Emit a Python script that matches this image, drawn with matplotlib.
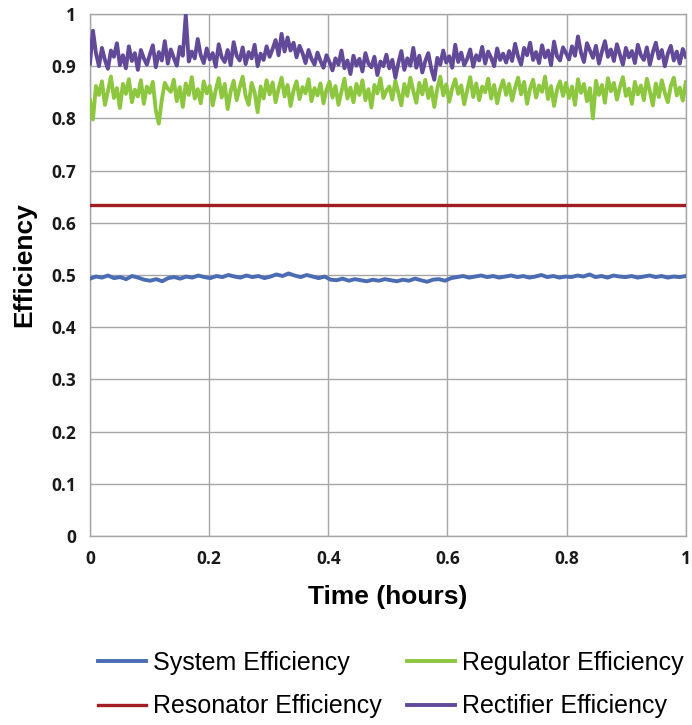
import numpy as np
import matplotlib
matplotlib.use('Agg')
import matplotlib.pyplot as plt

plt.rcParams['font.family'] = ['Liberation Sans', 'DejaVu Sans']

# Efficiency readings over one hour (equally spaced samples)
rectifier_eff = [
    0.905, 0.968, 0.925, 0.900, 0.935, 0.912, 0.895, 0.930, 0.918, 0.944, 0.902, 0.921, 0.896, 0.938, 0.910, 0.925, 0.893, 0.931, 0.915, 0.903,
    0.922, 0.940, 0.898, 0.927, 0.911, 0.948, 0.905, 0.932, 0.916, 0.901, 0.937, 0.920, 0.998, 0.909, 0.928, 0.915, 0.952, 0.921, 0.906, 0.934,
    0.913, 0.925, 0.899, 0.942, 0.917, 0.908, 0.931, 0.902, 0.946, 0.920, 0.911, 0.936, 0.904, 0.927, 0.915, 0.941, 0.900, 0.924, 0.912, 0.938,
    0.918, 0.933, 0.950, 0.921, 0.962, 0.928, 0.955, 0.930, 0.945, 0.917, 0.939, 0.925, 0.906, 0.931, 0.914, 0.903, 0.926, 0.910, 0.897, 0.921,
    0.908, 0.892, 0.915, 0.903, 0.930, 0.896, 0.911, 0.885, 0.920, 0.901, 0.914, 0.890, 0.925, 0.905, 0.898, 0.918, 0.883, 0.909, 0.900, 0.922,
    0.896, 0.912, 0.878, 0.906, 0.929, 0.893, 0.915, 0.901, 0.935, 0.897, 0.920, 0.888, 0.910, 0.925, 0.895, 0.874, 0.916, 0.903, 0.930, 0.907,
    0.919, 0.897, 0.941, 0.908, 0.926, 0.902, 0.914, 0.932, 0.899, 0.921, 0.911, 0.937, 0.905, 0.928, 0.916, 0.900, 0.934, 0.912, 0.924, 0.907,
    0.929, 0.910, 0.943, 0.918, 0.903, 0.935, 0.921, 0.945, 0.912, 0.927, 0.906, 0.940, 0.917, 0.930, 0.902, 0.947, 0.919, 0.911, 0.936, 0.925,
    0.913, 0.938, 0.920, 0.957, 0.926, 0.908, 0.944, 0.930, 0.916, 0.939, 0.905, 0.928, 0.948, 0.918, 0.932, 0.910, 0.942, 0.922, 0.903, 0.935,
    0.917, 0.929, 0.906, 0.941, 0.921, 0.912, 0.936, 0.903, 0.927, 0.945, 0.915, 0.931, 0.900, 0.924, 0.939, 0.911, 0.928, 0.905, 0.933, 0.918,
]

regulator_eff = [
    0.835, 0.798, 0.862, 0.845, 0.871, 0.826, 0.852, 0.880, 0.839, 0.858, 0.820, 0.866, 0.847, 0.875, 0.831, 0.855, 0.842, 0.873, 0.828, 0.861,
    0.849, 0.870, 0.815, 0.790, 0.836, 0.868, 0.857, 0.851, 0.874, 0.833, 0.860, 0.822, 0.867, 0.845, 0.879, 0.838, 0.856, 0.829, 0.871, 0.848,
    0.862, 0.825, 0.854, 0.877, 0.840, 0.866, 0.818, 0.852, 0.872, 0.835, 0.859, 0.880, 0.843, 0.826, 0.868, 0.850, 0.812, 0.861, 0.838, 0.873,
    0.846, 0.869, 0.831, 0.857, 0.878, 0.842, 0.864, 0.824, 0.853, 0.871, 0.837, 0.860, 0.848, 0.875, 0.833, 0.858, 0.844, 0.867, 0.829, 0.855,
    0.870, 0.840, 0.862, 0.826, 0.851, 0.876, 0.838, 0.859, 0.831, 0.866, 0.845, 0.873, 0.835, 0.856, 0.821, 0.864, 0.848, 0.877, 0.839, 0.853,
    0.861, 0.836, 0.872, 0.849, 0.825, 0.866, 0.843, 0.878, 0.852, 0.830, 0.868, 0.846, 0.874, 0.839, 0.860, 0.822, 0.857, 0.880, 0.844, 0.865,
    0.832, 0.858, 0.875, 0.847, 0.863, 0.827, 0.854, 0.879, 0.841, 0.867, 0.835, 0.861, 0.850, 0.876, 0.838, 0.864, 0.829, 0.856, 0.873, 0.845,
    0.866, 0.834, 0.859, 0.878, 0.846, 0.870, 0.828, 0.857, 0.874, 0.840, 0.863, 0.851, 0.880, 0.837, 0.862, 0.824, 0.855, 0.871, 0.843, 0.868,
    0.839, 0.861, 0.826, 0.875, 0.849, 0.866, 0.833, 0.858, 0.800, 0.872, 0.845, 0.864, 0.830, 0.877, 0.852, 0.868, 0.836, 0.860, 0.879, 0.843,
    0.857, 0.828, 0.870, 0.846, 0.863, 0.835, 0.876, 0.852, 0.825, 0.867, 0.841, 0.873, 0.849, 0.831, 0.862, 0.878, 0.844, 0.859, 0.834, 0.869,
]

system_eff = [
    0.493, 0.497, 0.495, 0.499, 0.494, 0.496, 0.492, 0.498, 0.495, 0.491,
    0.489, 0.492, 0.488, 0.494, 0.496, 0.493, 0.497, 0.495, 0.499, 0.496,
    0.494, 0.498, 0.496, 0.500, 0.497, 0.495, 0.499, 0.496, 0.498, 0.494,
    0.497, 0.501, 0.498, 0.503, 0.499, 0.496, 0.500, 0.497, 0.494, 0.497,
    0.491, 0.490, 0.493, 0.489, 0.492, 0.490, 0.488, 0.491, 0.489, 0.492,
    0.490, 0.488, 0.491, 0.489, 0.493, 0.490, 0.487, 0.491, 0.492, 0.489,
    0.494, 0.496, 0.498, 0.495, 0.497, 0.499, 0.496, 0.498, 0.495, 0.497,
    0.499, 0.496, 0.498, 0.495, 0.497, 0.500, 0.496, 0.498, 0.495, 0.497,
    0.496, 0.499, 0.497, 0.501, 0.496, 0.498, 0.495, 0.499, 0.497, 0.496,
    0.498, 0.495, 0.497, 0.499, 0.496, 0.498, 0.495, 0.497, 0.496, 0.498,
]

resonator_eff = [0.635, 0.635]

x_ticks = [0, 0.2, 0.4, 0.6, 0.8, 1]
y_ticks = [0, 0.1, 0.2, 0.3, 0.4, 0.5, 0.6, 0.7, 0.8, 0.9, 1]

COLORS = {
    'system': '#4a6cb3',
    'resonator': '#a11d21',
    'regulator': '#8dc63f',
    'rectifier': '#624a99',
}


def sample_times(values):
    # samples are evenly spread over the one-hour run
    return np.linspace(0, 1, len(values))


fig = plt.figure(figsize=(6.92, 7.25), dpi=100)
ax = fig.add_axes([0.130, 0.2607, 0.861, 0.72])

ax.plot(sample_times(system_eff), system_eff, color=COLORS['system'],
        lw=2.8, label='System Efficiency', zorder=3)
ax.plot(sample_times(regulator_eff), regulator_eff, color=COLORS['regulator'],
        lw=2.8, label='Regulator Efficiency', zorder=3)
ax.plot(sample_times(resonator_eff), resonator_eff, color=COLORS['resonator'],
        lw=2.4, label='Resonator Efficiency', zorder=3)
ax.plot(sample_times(rectifier_eff), rectifier_eff, color=COLORS['rectifier'],
        lw=2.8, label='Rectifier Efficiency', zorder=4)

ax.set_xlim(0, 1)
ax.set_ylim(0, 1)
ax.set_xticks(x_ticks)
ax.set_xticklabels([f'{t:g}' for t in x_ticks])
ax.set_yticks(y_ticks)
ax.set_yticklabels([f'{t:g}' for t in y_ticks])

ax.grid(True, color='#a6a6a6', lw=1.0)
ax.set_axisbelow(True)
for side in ax.spines.values():
    side.set_color('#a6a6a6')
    side.set_linewidth(1.0)
ax.tick_params(length=0, pad=10, labelsize=12.5, labelcolor='#1a1a1a')
for lab in ax.get_xticklabels() + ax.get_yticklabels():
    lab.set_fontweight('bold')
    lab.set_family(['Open Sans', 'DejaVu Sans'])

ax.set_xlabel('Time (hours)', fontsize=19, fontweight='bold', labelpad=12)
ax.set_ylabel('Efficiency', fontsize=19, fontweight='bold', labelpad=10)
ax.yaxis.set_label_coords(-0.09, 0.52)

handles, labels = ax.get_legend_handles_labels()
order = [0, 2, 1, 3]
fig.legend([handles[i] for i in order], [labels[i] for i in order],
           loc='lower center', bbox_to_anchor=(0.565, -0.022), ncol=2,
           frameon=False, fontsize=18, handlelength=1.9, handletextpad=0.3,
           columnspacing=1.0, labelspacing=0.78)

fig.savefig('out.png', dpi=100, facecolor='white')
